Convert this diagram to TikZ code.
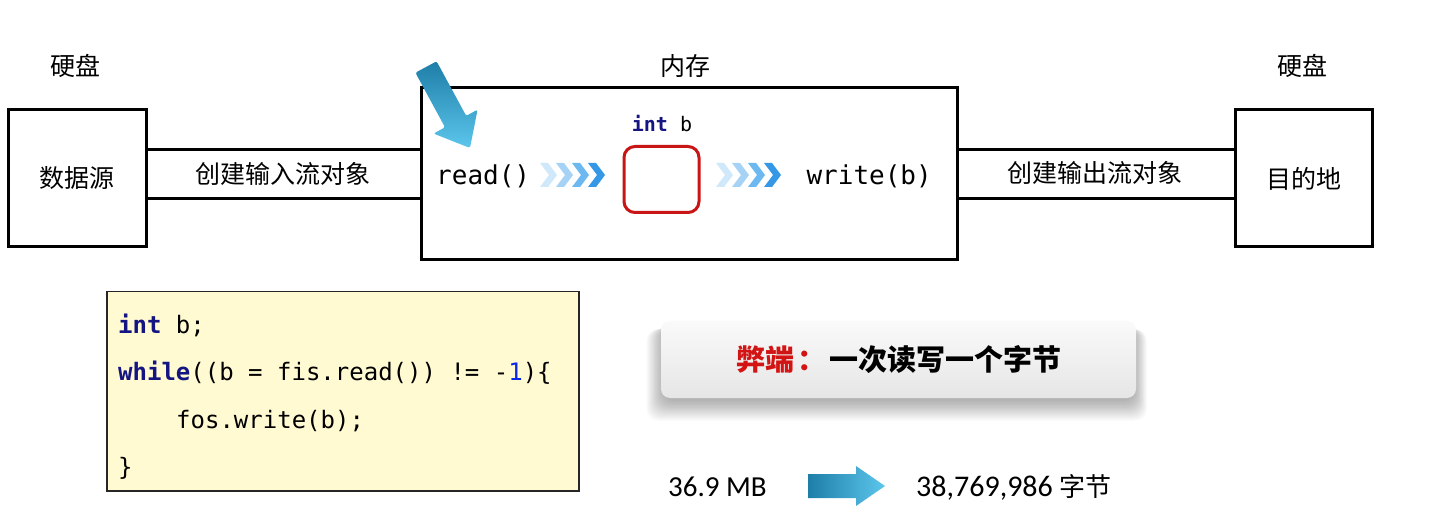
\documentclass[tikz,border=0pt]{standalone}
\usepackage{fontspec}
\setmainfont{Carlito}
\newfontfamily\cjk{Noto Sans CJK SC}
\newfontfamily\mono{DejaVu Sans Mono}
\definecolor{navy}{RGB}{20,20,130}
\definecolor{numblue}{RGB}{10,40,230}
\definecolor{codebg}{RGB}{255,250,210}
\definecolor{boxred}{RGB}{200,22,22}
\definecolor{ca}{RGB}{207,232,250}
\definecolor{cb}{RGB}{166,211,245}
\definecolor{cc}{RGB}{108,184,240}
\definecolor{cd}{RGB}{52,152,230}
\definecolor{arrdark}{RGB}{30,126,168}
\definecolor{arrlight}{RGB}{92,198,236}
\definecolor{advred}{RGB}{210,20,20}
\tikzset{
  blk/.style={draw=black, line width=3pt, inner sep=0pt, font=\cjk\fontsize{25}{30}\selectfont},
  tube/.style={draw=black, line width=3pt},
  cjklbl/.style={inner sep=0pt, font=\cjk\fontsize{25}{30}\selectfont},
  monolbl/.style={inner sep=0pt, font=\mono\fontsize{26}{30}\selectfont},
  codeline/.style={inner sep=0pt, anchor=base west, font=\mono\fontsize{24}{28}\selectfont},
  chev/.pic={\fill[pic actions] (0,-12) -- (8,-12) -- (17,0) -- (8,12) -- (0,12) -- (9,0) -- cycle;}
}
\begin{document}
\begin{tikzpicture}[x=1pt,y=-1pt]
\useasboundingbox (0,0) rectangle (1448,510);
\fill[white] (0,0) rectangle (1448,510);

% headings
\node[cjklbl] (hd1) at (75,66) {硬盘};
\node[cjklbl] (hd2) at (685,66) {内存};
\node[cjklbl] (hd3) at (1302,66) {硬盘};

% boxes
\node[blk, minimum width=138, minimum height=137] (src) at (77,178.5) {数据源};
\node[blk, minimum width=536, minimum height=172] (mem) at (689,174) {};
\node[blk, minimum width=137, minimum height=137] (dst) at (1303.5,178.5) {目的地};

\coordinate (ytop) at (0,150);
\coordinate (ybot) at (0,199);
\draw[tube] (src.east |- ytop) -- (mem.west |- ytop);
\draw[tube] (src.east |- ybot) -- (mem.west |- ybot);
\draw[tube] (mem.east |- ytop) -- (dst.west |- ytop);
\draw[tube] (mem.east |- ybot) -- (dst.west |- ybot);
\node[cjklbl] (inl) at (283,174) {创建输入流对象};
\node[cjklbl] (outl) at (1095,173) {创建输出流对象};

% memory contents
\node[monolbl, anchor=west] (rd) at (436,176) {read()};
\node[monolbl, anchor=east] (wr) at (932,176) {write(b)};
\node[draw=boxred, line width=3pt, rounded corners=11pt, minimum width=75, minimum height=66] (var) at (661.5,179.5) {};
\node[inner sep=0pt, font=\mono\fontsize{20}{24}\selectfont] (vlbl) at (662,124) {\textcolor{navy}{\bfseries int} b};
\pic[fill=ca] at (540,175) {chev};
\pic[fill=cb] at (556,175) {chev};
\pic[fill=cc] at (572,175) {chev};
\pic[fill=cd] at (588,175) {chev};
\pic[fill=ca] at (716,175) {chev};
\pic[fill=cb] at (732,175) {chev};
\pic[fill=cc] at (748,175) {chev};
\pic[fill=cd] at (764,175) {chev};

% blue pointer arrow
\shade[top color=arrdark, bottom color=arrlight, rounded corners=2pt]
  (436.6,61.3) -- (466.2,115.9) -- (477.6,109.6) -- (470.0,148.0)
  -- (433.6,133.6) -- (445.0,127.3) -- (415.4,72.7) -- cycle;

% code box
\node[draw=black!85, fill=codebg, line width=1.5pt, minimum width=472, minimum height=199, anchor=north west, inner sep=0pt] (code) at (106,291) {};
\node[codeline] (c1) at (118,334) {\textcolor{navy}{\bfseries int} b;};
\node[codeline] (c2) at (118,381) {\textcolor{navy}{\bfseries while}((b = fis.read()) != -\textcolor{numblue}{1})\{};
\node[codeline] (c3) at (176,428) {fos.write(b);};
\node[codeline] (c4) at (118,475) {\}};

% soft shadow of the callout
\foreach \i in {1,...,16} {
  \fill[black, opacity=0.018, rounded corners=12pt]
    (664-\i*1.1,326+\i*0.2) rectangle (1134+\i*0.8,400+\i*1.3);
}
% disadvantage callout
\node[rounded corners=9pt, minimum width=475, minimum height=77, inner sep=0pt,
      top color=white!98!black, bottom color=white!90!black,
      font=\cjk\bfseries\fontsize{29}{34}\selectfont] (adv) at (898.5,359.5)
  {\textcolor{advred}{弊端\hspace{4pt}：}\hspace{2pt}一次读写一个字节};

% size conversion
\node[inner sep=0pt, anchor=west, font=\fontsize{29}{34}\selectfont] (mb) at (668,487) {36.9 MB};
\node[inner sep=0pt, anchor=west, font=\fontsize{30}{34}\selectfont] (bytes) at (916,487) {38,769,986\hspace{7pt}{\cjk\fontsize{26}{30}\selectfont 字节}};
\shade[left color=arrdark, right color=arrlight]
  (808,474) -- (856,474) -- (856,466) -- (885,486) -- (856,506) -- (856,498) -- (808,498) -- cycle;
\end{tikzpicture}
\end{document}
